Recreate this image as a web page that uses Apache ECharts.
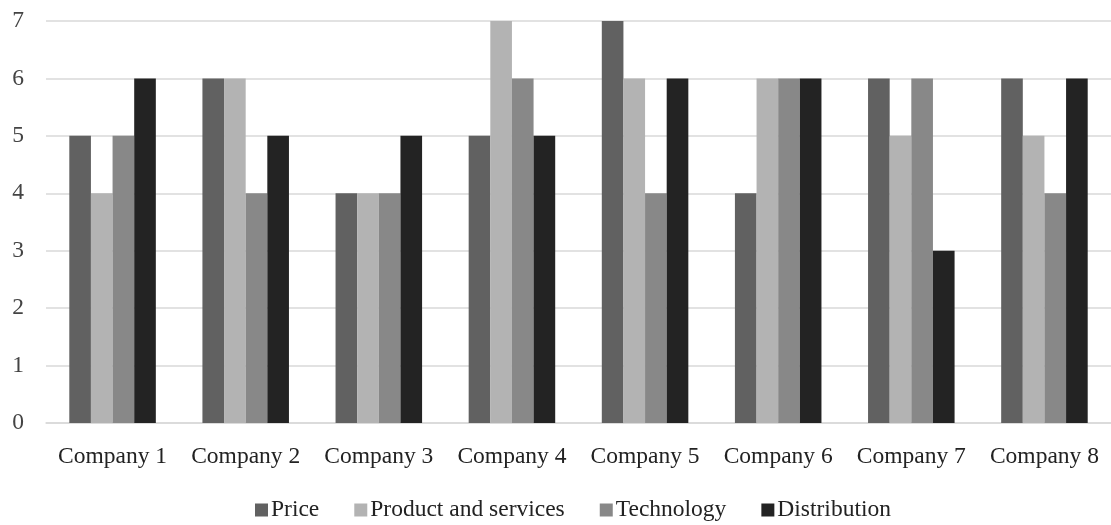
<!DOCTYPE html>
<html>
<head>
<meta charset="utf-8">
<script src="https://cdn.jsdelivr.net/npm/echarts@6/dist/echarts.min.js"></script>
<style>
  html, body { margin: 0; padding: 0; background: #ffffff; }
  #chart { width: 1111px; height: 525px; }
</style>
</head>
<body>
<div id="chart"></div>
<script>
// Scores per company across four competitive factors
const categories = ['Company 1', 'Company 2', 'Company 3', 'Company 4', 'Company 5', 'Company 6', 'Company 7', 'Company 8'];
const price = [5, 6, 4, 5, 7, 4, 6, 6];
const productServices = [4, 6, 4, 7, 6, 6, 5, 5];
const technology = [5, 4, 4, 6, 4, 6, 6, 4];
const distribution = [6, 5, 5, 5, 6, 6, 3, 6];
const seriesNames = ['Price', 'Product and services', 'Technology', 'Distribution'];
const seriesColors = ['#616161', '#b3b3b3', '#888888', '#232323'];

const FONT = '"Liberation Serif", "DejaVu Serif", serif';
const values = [price, productServices, technology, distribution];

const chart = echarts.init(document.getElementById('chart'), null, { renderer: 'canvas' });
chart.setOption({
  animation: false,
  color: seriesColors,
  grid: { left: 46, right: 0, top: 21, bottom: 102, containLabel: false },
  legend: {
    top: 498,
    left: 255,
    padding: 0,
    itemWidth: 13,
    itemHeight: 13,
    itemGap: 35,
    icon: 'rect',
    textStyle: { fontFamily: FONT, fontSize: 23.5, color: '#222', padding: [0, 0, 0, -2] },
    data: seriesNames
  },
  xAxis: {
    type: 'category',
    data: categories,
    axisLine: { lineStyle: { color: '#d9d9d9', width: 1.5 } },
    axisTick: { show: false },
    axisLabel: { fontFamily: FONT, fontSize: 23.5, color: '#222', margin: 22, interval: 0 }
  },
  yAxis: {
    type: 'value',
    min: 0,
    max: 7,
    interval: 1,
    axisLine: { show: false },
    axisTick: { show: false },
    splitLine: { lineStyle: { color: '#d9d9d9', width: 1.5 } },
    axisLabel: { fontFamily: FONT, fontSize: 23.5, color: '#444', margin: 22 }
  },
  series: seriesNames.map((name, i) => ({
    name: name,
    type: 'bar',
    data: values[i],
    barGap: '0%',
    barCategoryGap: '35%',
    itemStyle: { color: seriesColors[i] }
  }))
});
</script>
</body>
</html>
